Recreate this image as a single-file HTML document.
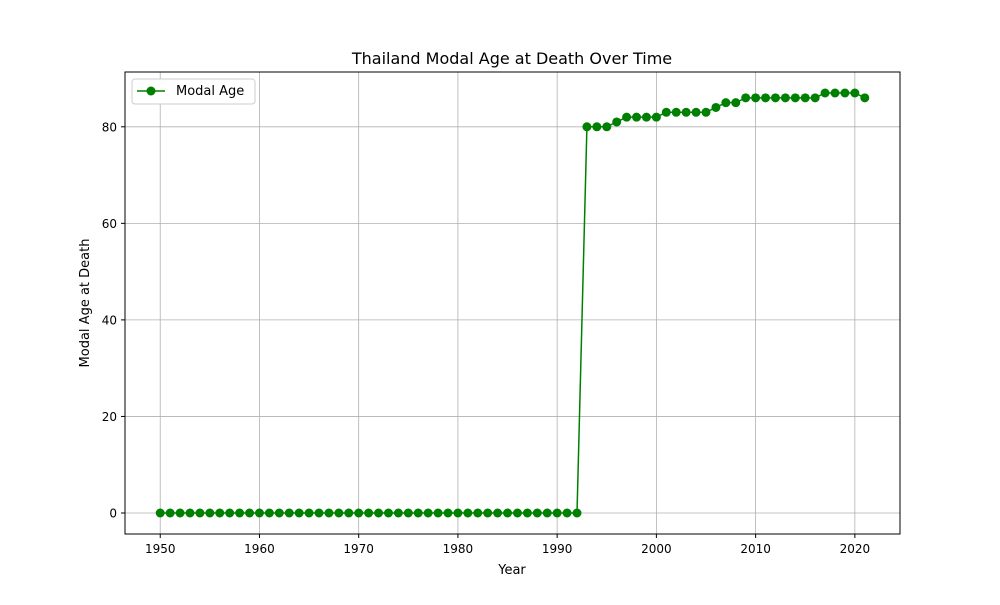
<!DOCTYPE html>
<html><head><meta charset="utf-8"><style>body{margin:0;background:#fff}svg{font-family:"DejaVu Sans","Liberation Sans",sans-serif}</style></head>
<body>
<svg id="chart" width="1000" height="600">
<rect width="1000" height="600" fill="#fff"/>
<text x="512" y="64" text-anchor="middle" font-size="16">Thailand Modal Age at Death Over Time</text>
<g id="grid"></g><g id="ticks"></g><g id="series"></g>
<rect x="125" y="72" width="775" height="462" fill="none" stroke="#000" stroke-width="1"/>
<text x="512" y="574" text-anchor="middle" font-size="13">Year</text>
<text transform="translate(89,303) rotate(-90)" text-anchor="middle" font-size="13">Modal Age at Death</text>
<g>
<rect x="132" y="79" width="123" height="25" fill="#fff" stroke="#ccc" rx="3"/>
<g>
<line x1="137" y1="91" x2="165" y2="91" stroke="green" stroke-width="1.5"/>
<circle cx="151" cy="91" r="4.5" fill="green"/>
<text x="176" y="95" font-size="13">Modal Age</text></g></g>
</svg>
<script>
const years = [];
for (let y = 1950; y <= 2021; y++) years.push(y);
const modalAge = [0,0,0,0,0,0,0,0,0,0, 0,0,0,0,0,0,0,0,0,0, 0,0,0,0,0,0,0,0,0,0, 0,0,0,0,0,0,0,0,0,0, 0,0,0,
80,80,80,81,82,82,82,82,83,83,83,83,83,84,85,85,86,86,86,86,86,86,86,86,87,87,87,87,86];
const xTicks = [1950,1960,1970,1980,1990,2000,2010,2020];
const yTicks = [0,20,40,60,80];
const NS='http://www.w3.org/2000/svg';
const xMin=1946.45,xMax=2024.55,yMin=-4.35,yMax=91.35;
const X=v=>125+(v-xMin)/(xMax-xMin)*775;
const Y=v=>534-(v-yMin)/(yMax-yMin)*462;
function mk(t,a,p){const e=document.createElementNS(NS,t);for(const k in a)e.setAttribute(k,a[k]);p.appendChild(e);return e;}
const grid=document.getElementById('grid'),ticks=document.getElementById('ticks'),ser=document.getElementById('series');
xTicks.forEach(t=>{const x=X(t);
 const g=mk('line',{x1:x,x2:x,y1:72,y2:534,stroke:'#b0b0b0','stroke-width':0.8},grid);
 
 
 mk('line',{x1:x,x2:x,y1:534,y2:538,stroke:'#000'},ticks);
 const l=mk('text',{x:x,y:553,'text-anchor':'middle','font-size':12},ticks);l.textContent=t;
 
 });
yTicks.forEach(t=>{const y=Y(t);
 const g=mk('line',{x1:125,x2:900,y1:y,y2:y,stroke:'#b0b0b0','stroke-width':0.8},grid);
 
 
 mk('line',{x1:121,x2:125,y1:y,y2:y,stroke:'#000'},ticks);
 const l=mk('text',{x:117,y:y+4.5,'text-anchor':'end','font-size':12},ticks);l.textContent=t;
 
 });
const pts=years.map((y,i)=>X(y)+','+Y(modalAge[i])).join(' ');
const pl=mk('polyline',{points:pts,fill:'none',stroke:'green','stroke-width':1.5},ser);


years.forEach((y,i)=>{const c=mk('circle',{cx:X(y),cy:Y(modalAge[i]),r:4.5,fill:'green'},ser);
 
 });
</script>
</body></html>
